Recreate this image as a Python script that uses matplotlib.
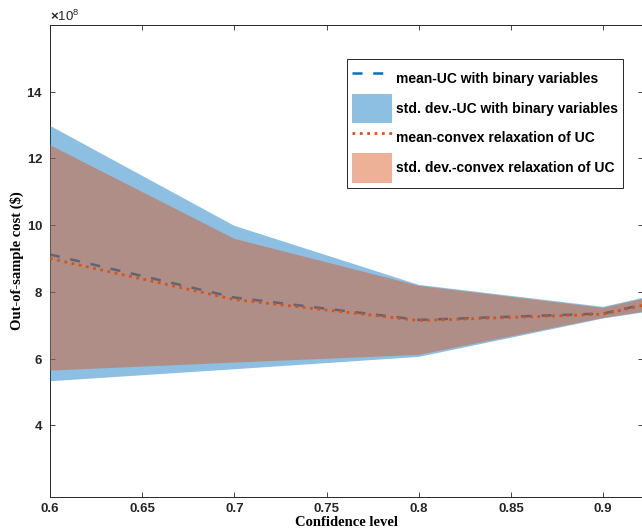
import numpy as np
import matplotlib
matplotlib.use("Agg")
import matplotlib.pyplot as plt

# Confidence levels and out-of-sample cost (x 1e8 $)
nivel = [0.6, 0.7, 0.8, 0.9, 0.95]
media_bin = [9.12, 7.83, 7.16, 7.35, 7.97]
sup_bin = [12.98, 9.98, 8.21, 7.55, 8.18]
inf_bin = [5.32, 5.68, 6.05, 7.20, 7.62]
media_cvx = [9.00, 7.77, 7.14, 7.33, 7.95]
sup_cvx = [12.40, 9.59, 8.18, 7.52, 8.15]
inf_cvx = [5.64, 5.88, 6.11, 7.22, 7.64]
escala = 1e8

rotulos = ['mean-UC with binary variables',
           'std. dev.-UC with binary variables',
           'mean-convex relaxation of UC',
           'std. dev.-convex relaxation of UC']
cor = ['#0072BD', '#D95319']

plt.rcParams['font.family'] = 'Liberation Sans'
plt.rcParams['mathtext.fontset'] = 'custom'
plt.rcParams['mathtext.rm'] = 'Liberation Sans:bold'
plt.rcParams['mathtext.it'] = 'Liberation Sans:bold'

fig = plt.figure(figsize=(6.42, 5.31), dpi=100)
ax = fig.add_axes([50 / 642, 34 / 531, 593 / 642, 472 / 531])

x = np.array(nivel)
# as faixas ficam por cima das linhas, como no original
ax.plot(x, np.array(media_bin) * escala, '--', color=cor[0], lw=1.8,
        dashes=(4, 4.3), label=rotulos[0], zorder=2)
ax.fill_between(x, np.array(inf_bin) * escala, np.array(sup_bin) * escala,
                color=cor[0], alpha=0.45, lw=0, label=rotulos[1], zorder=3)
ax.plot(x, np.array(media_cvx) * escala, ':', color=cor[1], lw=2.0,
        label=rotulos[2], zorder=4)
ax.fill_between(x, np.array(inf_cvx) * escala, np.array(sup_cvx) * escala,
                color=cor[1], alpha=0.45, lw=0, label=rotulos[3], zorder=5)

ax.set_xlim(0.6, 0.9216)
ax.set_ylim(1.85 * escala, 16 * escala)
ax.set_xticks([0.6, 0.65, 0.7, 0.75, 0.8, 0.85, 0.9])
ax.set_xticklabels(['0.6', '0.65', '0.7', '0.75', '0.8', '0.85', '0.9'])
ax.set_yticks(np.arange(4, 15, 2) * escala)
ax.ticklabel_format(axis='y', style='sci', scilimits=(8, 8), useMathText=True)

ax.tick_params(direction='in', length=3.5, width=0.6, color='#262626',
               labelsize=9.5, labelcolor='#262626', top=True, right=True)
ax.tick_params(axis='x', pad=4)
ax.tick_params(axis='y', pad=5)
for lab in ax.get_xticklabels() + ax.get_yticklabels():
    lab.set_fontweight('bold')
off = ax.yaxis.get_offset_text()
off.set_fontsize(9.5)
off.set_color('#262626')
for s in ax.spines.values():
    s.set_linewidth(0.7)
    s.set_color('#262626')

ax.set_xlabel('Confidence level', family='Liberation Serif', fontweight='bold',
              fontsize=10.5, labelpad=1)
ax.set_ylabel('Out-of-sample cost (\\$)', family='Liberation Serif',
              fontweight='bold', fontsize=10.5, labelpad=2)

leg = ax.legend(loc='upper right', bbox_to_anchor=(0.966, 0.928),
                prop={'weight': 'bold', 'size': 10}, fancybox=False,
                edgecolor='#262626', framealpha=1, handlelength=2.9,
                handleheight=2.9, labelspacing=0.02, handletextpad=0.3,
                borderpad=0.35, borderaxespad=0)
leg.get_frame().set_linewidth(0.7)
leg.set_zorder(10)

plt.savefig('out.png', dpi=100)
